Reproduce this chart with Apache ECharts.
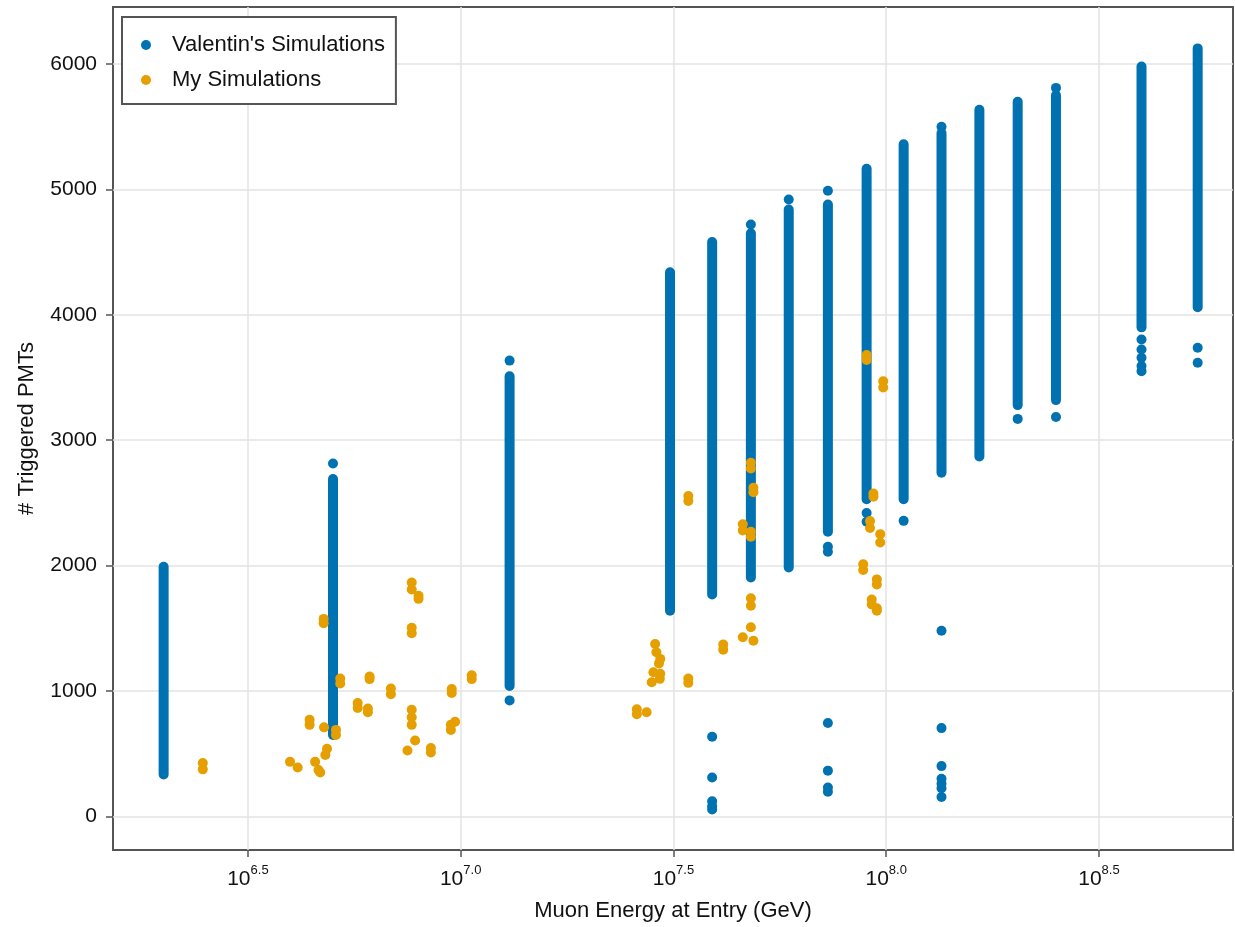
<!DOCTYPE html>
<html>
<head>
<meta charset="utf-8">
<title>Triggered PMTs vs Muon Energy</title>
<script src="https://cdn.jsdelivr.net/npm/echarts@6/dist/echarts.min.js"></script>
<style>
  html, body { margin: 0; padding: 0; background: #fff; }
  #main { width: 1235px; height: 927px; }
</style>
</head>
<body>
<div id="main"></div>
<script>
// x values are log10(E / GeV)
var xTicks = [6.5, 7.0, 7.5, 8.0, 8.5];
var yTicks = [0, 1000, 2000, 3000, 4000, 5000, 6000];

// Valentin's simulations: dense columns (lo..hi) at each energy
var blueX  = [6.302, 6.700, 7.115, 7.492, 7.591, 7.682, 7.771, 7.863, 7.954, 8.041, 8.130, 8.219, 8.309, 8.399, 8.600, 8.732];
var blueLo = [335,   650,   1040,  1640,  1770,  1905,  1985,  2270,  2530,  2530,  2740,  2870,  3280,  3320,  3900,  4060];
var blueHi = [1990,  2690,  3510,  4340,  4580,  4650,  4840,  4880,  5165,  5360,  5450,  5635,  5700,  5750,  5980,  6125];

// Valentin's simulations: separated points
var blueExtra = [
  [6.700, 2815], [7.115, 3635], [7.115, 925],
  [7.591, 635], [7.591, 310], [7.591, 120], [7.591, 80], [7.591, 55],
  [7.682, 4720], [7.771, 4920], [7.863, 4990],
  [7.863, 2150], [7.863, 2110], [7.863, 745], [7.863, 365], [7.863, 230], [7.863, 197],
  [7.954, 2420], [7.954, 2350], [8.041, 2357],
  [8.130, 5500], [8.130, 1481], [8.130, 704], [8.130, 401], [8.130, 300], [8.130, 260], [8.130, 225], [8.130, 155],
  [8.309, 3170], [8.399, 5810], [8.399, 3185],
  [8.600, 3803], [8.600, 3724], [8.600, 3658], [8.600, 3591], [8.600, 3551],
  [8.732, 3737], [8.732, 3618]
];

// My simulations
var mine = [
  [6.394, 425], [6.394, 375],
  [6.599, 435], [6.617, 390],
  [6.645, 770], [6.645, 730],
  [6.658, 435], [6.666, 370], [6.670, 350],
  [6.678, 1575], [6.678, 1540],
  [6.679, 710],
  [6.686, 540], [6.682, 490],
  [6.707, 690], [6.707, 650],
  [6.717, 1100], [6.717, 1060],
  [6.758, 905], [6.758, 865],
  [6.782, 860], [6.782, 830],
  [6.786, 1115], [6.786, 1095],
  [6.836, 1020], [6.836, 975],
  [6.875, 525], [6.893, 605],
  [6.885, 1865], [6.885, 1810], [6.901, 1760], [6.901, 1735],
  [6.885, 1505], [6.885, 1460],
  [6.885, 850], [6.885, 790], [6.885, 730],
  [6.930, 545], [6.930, 510],
  [6.977, 690], [6.977, 730], [6.987, 755],
  [6.979, 1015], [6.979, 985],
  [7.026, 1125], [7.026, 1095],
  [7.414, 855], [7.414, 815], [7.437, 830],
  [7.449, 1070], [7.453, 1150], [7.457, 1375], [7.460, 1309], [7.469, 1256], [7.466, 1220], [7.469, 1137], [7.468, 1097],
  [7.535, 1100], [7.535, 1065],
  [7.535, 2555], [7.535, 2515],
  [7.617, 1370], [7.617, 1330],
  [7.663, 2330], [7.663, 2280],
  [7.682, 2270], [7.682, 2230],
  [7.682, 2820], [7.682, 2775],
  [7.688, 2620], [7.688, 2585],
  [7.682, 1740], [7.682, 1680],
  [7.682, 1508], [7.663, 1428], [7.688, 1401],
  [7.946, 2010], [7.946, 1965],
  [7.954, 3680], [7.954, 3640],
  [7.962, 2355], [7.962, 2300],
  [7.966, 1730], [7.966, 1690],
  [7.970, 2575], [7.970, 2550],
  [7.978, 1890], [7.978, 1850],
  [7.978, 1660], [7.978, 1640],
  [7.986, 2251], [7.986, 2185],
  [7.993, 3470], [7.993, 3420]
];

var BLUE = '#0072b2';
var ORANGE = '#e69f00';
var FONT = 'Liberation Sans';

var chart = echarts.init(document.getElementById('main'));

var series = [];
// dense columns drawn as thick round-capped segments
for (var i = 0; i < blueX.length; i++) {
  series.push({
    name: "Valentin's Simulations",
    type: 'line',
    data: [[blueX[i], blueLo[i]], [blueX[i], blueHi[i]]],
    symbol: 'none',
    silent: true,
    lineStyle: { color: BLUE, width: 10, cap: 'round' },
    itemStyle: { color: BLUE },
    z: 2
  });
}
series.push({
  name: "Valentin's Simulations",
  type: 'scatter',
  data: blueExtra,
  symbolSize: 10,
  itemStyle: { color: BLUE, opacity: 1 },
  z: 3
});
series.push({
  name: 'My Simulations',
  type: 'scatter',
  data: mine,
  symbolSize: 10,
  itemStyle: { color: ORANGE, opacity: 1 },
  z: 4
});

chart.setOption({
  animation: false,
  textStyle: { fontFamily: FONT },
  grid: {
    left: 113, right: 2, top: 7, bottom: 76,
    show: true, borderColor: '#555', borderWidth: 2
  },
  legend: {
    left: 122, top: 17,
    orient: 'vertical',
    padding: [17, 11, 13, 19],
    itemGap: 13,
    itemWidth: 10, itemHeight: 10,
    borderColor: '#555', borderWidth: 2,
    backgroundColor: '#fff',
    textStyle: { fontSize: 22, color: '#111', fontFamily: FONT, padding: [0, 0, 0, 16] },
    data: [
      { name: "Valentin's Simulations", icon: 'circle', itemStyle: { color: BLUE } },
      { name: 'My Simulations', icon: 'circle', itemStyle: { color: ORANGE } }
    ]
  },
  xAxis: {
    type: 'value',
    min: 6.183, max: 8.815,
    name: 'Muon Energy at Entry (GeV)',
    nameLocation: 'middle',
    nameGap: 50,
    nameTextStyle: { fontSize: 22, color: '#111', fontFamily: FONT },
    axisLine: { show: false, onZero: false },
    axisTick: { show: true, length: 7, customValues: xTicks, lineStyle: { color: '#555', width: 1.5 } },
    axisLabel: {
      customValues: xTicks,
      margin: 14,
      formatter: function (v) { return '{b|10}{s|' + v.toFixed(1) + '}'; },
      rich: {
        b: { fontSize: 21, color: '#111', fontFamily: FONT, verticalAlign: 'bottom', lineHeight: 26 },
        s: { fontSize: 13, color: '#111', fontFamily: FONT, verticalAlign: 'top', lineHeight: 12 }
      }
    },
    splitLine: { show: true, lineStyle: { color: '#e3e3e3', width: 1.5 } }
  },
  yAxis: {
    type: 'value',
    min: -268, max: 6455,
    name: '# Triggered PMTs',
    nameLocation: 'middle',
    nameGap: 75,
    nameRotate: 90,
    nameTextStyle: { fontSize: 22, color: '#111', fontFamily: FONT },
    axisLine: { show: false, onZero: false },
    axisTick: { show: true, length: 7, customValues: yTicks, lineStyle: { color: '#555', width: 1.5 } },
    axisLabel: {
      customValues: yTicks, fontSize: 21, color: '#111', fontFamily: FONT, margin: 16,
      formatter: function (v) { return String(v); }
    },
    splitLine: { show: true, lineStyle: { color: '#e3e3e3', width: 1.5 } }
  },
  series: series
});
</script>
</body>
</html>
